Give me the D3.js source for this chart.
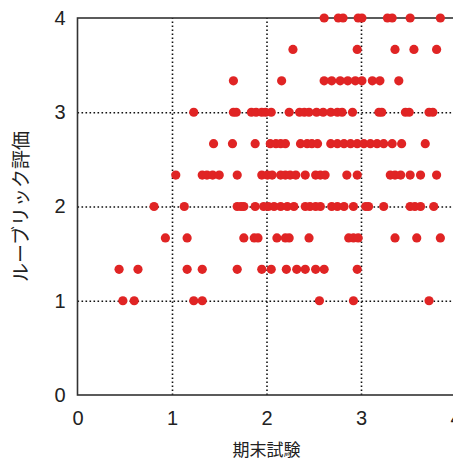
<!DOCTYPE html>
<html>
<head>
<meta charset="utf-8">
<script src="https://cdn.jsdelivr.net/npm/d3@7"></script>
<style>
  body { margin: 0; background: #fff; }
  svg text { font-family: "Liberation Sans", Arial, sans-serif; fill: #222; }
</style>
</head>
<body>
<div id="scatter"></div>
<script>
// rubric levels (y) and the final-exam scores (x) read for each level
var levels = [4, 3.667, 3.333, 3, 2.667, 2.333, 2, 1.667, 1.333, 1];

var examAt400 = [2.61, 2.76, 2.81, 2.97, 3.01, 3.28, 3.33, 3.52, 3.84];
var examAt367 = [2.28, 2.96, 3.36, 3.56, 3.80];
var examAt333 = [1.65, 2.16, 2.61, 2.69, 2.78, 2.86, 2.94, 3.01, 3.12, 3.20, 3.40];
var examAt300 = [1.23, 1.65, 1.68, 1.84, 1.89, 1.95, 1.99, 2.05, 2.24, 2.35, 2.40, 2.45,
                 2.53, 2.60, 2.68, 2.75, 2.80, 2.91, 3.19, 3.22, 3.47, 3.51, 3.72, 3.76];
var examAt267 = [1.44, 1.64, 1.88, 2.04, 2.10, 2.15, 2.20, 2.36, 2.43, 2.48, 2.54, 2.68,
                 2.75, 2.82, 2.89, 2.96, 3.03, 3.10, 3.17, 3.24, 3.33, 3.43, 3.68];
var examAt233 = [1.04, 1.32, 1.37, 1.43, 1.50, 1.69, 1.95, 2.01, 2.06, 2.15, 2.20, 2.25,
                 2.31, 2.41, 2.52, 2.57, 2.62, 2.85, 2.96, 3.31, 3.36, 3.42, 3.52, 3.63, 3.80];
var examAt200 = [0.81, 1.13, 1.69, 1.73, 1.76, 1.88, 1.97, 2.02, 2.08, 2.15, 2.22, 2.29,
                 2.41, 2.46, 2.52, 2.57, 2.69, 2.75, 2.82, 2.92, 3.05, 3.08, 3.24, 3.52,
                 3.57, 3.63, 3.77];
var examAt167 = [0.93, 1.16, 1.76, 1.87, 1.91, 2.11, 2.20, 2.24, 2.45, 2.87, 2.92, 2.97,
                 3.36, 3.59, 3.84];
var examAt133 = [0.44, 0.64, 1.16, 1.32, 1.69, 1.95, 2.05, 2.21, 2.32, 2.41, 2.52, 2.61, 2.96];
var examAt100 = [0.48, 0.60, 1.23, 1.32, 2.56, 2.92, 3.72];

var examByLevel = [examAt400, examAt367, examAt333, examAt300, examAt267,
                   examAt233, examAt200, examAt167, examAt133, examAt100];

var tickValues = [0, 1, 2, 3, 4];
var gridValues = [1, 2, 3];
var xTitle = "期末試験";
var yTitle = "ルーブリック評価";

var svgWidth = 453;
var svgHeight = 461;

var svg = d3.select("#scatter")
  .append("svg")
  .attr("width", svgWidth)
  .attr("height", svgHeight);

var x = d3.scaleLinear().domain([0, 4]).range([77.5, 455.5]);
var y = d3.scaleLinear().domain([0, 4]).range([395, 18]);

// flatten into points
var points = [];
levels.forEach(function(lv, i) {
  examByLevel[i].forEach(function(e) {
    points.push({ exam: e, rubric: lv });
  });
});

// dotted grid
svg.append("g")
  .attr("class", "grid")
  .attr("transform", `translate(0, ${y(0)})`)
  .call(d3.axisBottom(x).tickValues(gridValues).tickSize(-(y(0) - y(4))).tickFormat(""));

svg.append("g")
  .attr("class", "grid")
  .attr("transform", `translate(${x(0)}, 0)`)
  .call(d3.axisLeft(y).tickValues(gridValues).tickSize(-(x(4) - x(0))).tickFormat(""));

svg.selectAll(".grid .domain").remove();
svg.selectAll(".grid line")
  .attr("stroke", "#111")
  .attr("stroke-width", 1.6)
  .attr("stroke-dasharray", "1.6,2.4");

// plot frame
svg.append("rect")
  .attr("x", x(0))
  .attr("y", y(4))
  .attr("width", x(4) - x(0))
  .attr("height", y(0) - y(4))
  .attr("fill", "none")
  .attr("stroke", "#333")
  .attr("stroke-width", 1.6);

// tick labels
var xAxis = svg.append("g")
  .attr("transform", `translate(0, ${y(0)})`)
  .call(d3.axisBottom(x).tickValues(tickValues).tickSize(0).tickPadding(16).tickFormat(d3.format("d")));

var yAxis = svg.append("g")
  .attr("transform", `translate(${x(0)}, 0)`)
  .call(d3.axisLeft(y).tickValues(tickValues).tickSize(0).tickPadding(12).tickFormat(d3.format("d")));

svg.selectAll(".domain").filter(function() { return this.parentNode.getAttribute("class") !== "grid"; }).remove();
xAxis.selectAll("text").attr("font-size", "20px").attr("font-family", "Liberation Sans, Arial, sans-serif");
yAxis.selectAll("text").attr("font-size", "20px").attr("font-family", "Liberation Sans, Arial, sans-serif");

// points
svg.append("g")
  .selectAll("circle")
  .data(points)
  .enter()
  .append("circle")
  .attr("cx", d => x(d.exam))
  .attr("cy", d => y(d.rubric))
  .attr("r", 4.6)
  .attr("fill", "#e02424");

// axis titles
svg.append("text")
  .attr("x", x(2))
  .attr("y", 456)
  .attr("text-anchor", "middle")
  .attr("font-size", "17px")
  .style("font-family", "'Noto Sans CJK JP', sans-serif")
  .text(xTitle);

svg.append("text")
  .attr("transform", `translate(28, ${y(2)}) rotate(-90)`)
  .attr("text-anchor", "middle")
  .attr("font-size", "19px")
  .style("font-family", "'Noto Sans CJK JP', sans-serif")
  .text(yTitle);
</script>
</body>
</html>
